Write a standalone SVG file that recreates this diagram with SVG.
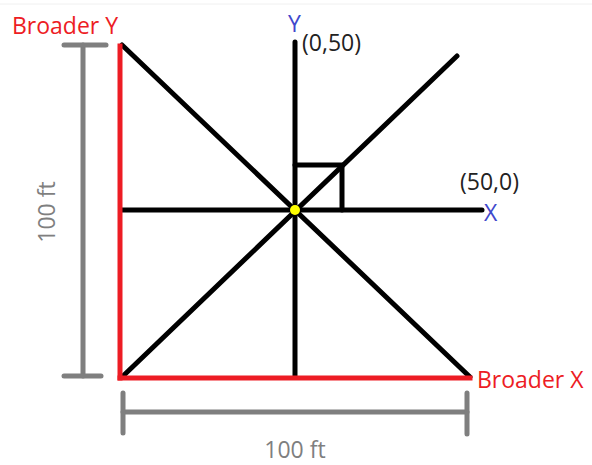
<svg xmlns="http://www.w3.org/2000/svg" width="592" height="465" viewBox="0 0 592 465">
<style>
.blk{stroke:#000;stroke-width:5;stroke-linecap:round;fill:none}
.red{stroke:#ed1c24;stroke-width:5;stroke-linecap:square;fill:none}
.gry{stroke:#7f7f7f;stroke-width:5;stroke-linecap:round;fill:none}
text{font-family:"Open Sans","Noto Sans",sans-serif;font-size:23px}
.tr{fill:#ed1c24}.tb{fill:#3f48cc}.tk{fill:#222}.tg{fill:#7f7f7f}
</style>
<rect width="592" height="465" fill="#fff"/>
<line x1="0" y1="4" x2="592" y2="4" stroke="#f0f0f0" stroke-width="1"/>
<g id="connectors">
<line class="blk" x1="122" y1="45" x2="470" y2="377"/>
<line class="blk" x1="122" y1="377" x2="457" y2="56"/>
<line class="blk" x1="295" y1="42" x2="295" y2="377"/>
<line class="blk" x1="121" y1="210" x2="482" y2="210"/>
<polyline class="blk" points="295,165 342,165 342,210"/>
</g>
<g id="broader-y">
<line class="red" x1="120" y1="46" x2="120" y2="378"/>
<text class="tr" x="12" y="34">Broader Y</text>
</g>
<g id="broader-x">
<line class="red" x1="120" y1="378" x2="470" y2="378"/>
<text class="tr" x="477" y="388">Broader X</text>
</g>
<g id="dim-vertical">
<line class="gry" x1="83" y1="45" x2="83" y2="376"/>
<line class="gry" x1="64" y1="45" x2="106" y2="45"/>
<line class="gry" x1="64" y1="376" x2="101" y2="376"/>
<text class="tg" transform="translate(55,212) rotate(-90)" text-anchor="middle">100 ft</text>
</g>
<g id="dim-horizontal">
<line class="gry" x1="123" y1="412" x2="467" y2="412"/>
<line class="gry" x1="123" y1="393" x2="123" y2="433"/>
<line class="gry" x1="467" y1="393" x2="467" y2="434"/>
<text class="tg" x="295" y="458" text-anchor="middle">100 ft</text>
</g>
<g id="y-axis-label">
<text class="tb" x="288" y="32">Y</text>
<text class="tk" x="302" y="51">(0,50)</text>
</g>
<g id="x-axis-label">
<text class="tk" x="460" y="190">(50,0)</text>
<text class="tb" x="484" y="221">X</text>
</g>
<g id="origin">
<circle cx="295" cy="210" r="5" fill="#ffff00"/>
</g>
</svg>
